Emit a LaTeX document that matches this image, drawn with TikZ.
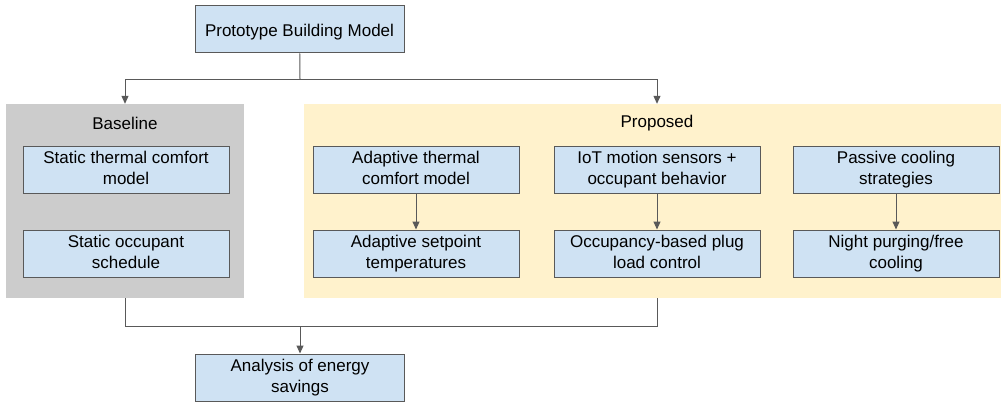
\documentclass[tikz,border=0pt]{standalone}
\usepackage{fontspec}
\setmainfont{Liberation Sans}
\usetikzlibrary{arrows.meta, positioning, calc}

\definecolor{boxblue}{HTML}{CFE2F3}
\definecolor{boxline}{HTML}{595959}
\definecolor{basegray}{HTML}{CCCCCC}
\definecolor{propyellow}{HTML}{FFF2CC}

\newcommand{\boxtopstrut}{\rule{0pt}{18pt}}
\newcommand{\boxbotstrut}{\rule[-3pt]{0pt}{3pt}}

\tikzset{
    stepbox/.style={rectangle, draw=boxline, fill=boxblue, line width=1pt,
        minimum width=206pt, minimum height=47pt, align=center,
        font=\fontsize{17}{20.5}\selectfont,
        execute at begin node=\boxtopstrut, execute at end node=\boxbotstrut},
    panel/.style={rectangle, inner sep=0pt},
    paneltitle/.style={font=\fontsize{17}{21}\selectfont},
    conn/.style={draw=boxline, line width=1pt},
    arr/.style={conn, -{Triangle[length=8pt,width=7pt]}}
}

\begin{document}
\begin{tikzpicture}[x=1pt, y=-1pt]
\useasboundingbox (0,0) rectangle (1001,404);
% Panels
\node[panel, fill=basegray, minimum width=238pt, minimum height=194pt] (baseline) at (125,201) {};
\node[panel, fill=propyellow, minimum width=697pt, minimum height=194pt] (proposed) at (652.5,201) {};
\node[paneltitle] (basetitle) at (125,123.5) {Baseline};
\node[paneltitle] (proptitle) at (657,123.5) {Proposed};
% Boxes
\node[stepbox, minimum width=209pt] (proto) at (299.5,29.5) {Prototype Building Model};
\node[stepbox] (statcomf) at (126,169.5) {Static thermal comfort\\model};
\node[stepbox] (statocc) at (126,253.5) {Static occupant\\schedule};
\node[stepbox] (adcomf) at (416,169.5) {Adaptive thermal\\comfort model};
\node[stepbox] (adset) at (416,253.5) {Adaptive setpoint\\temperatures};
\node[stepbox] (iot) at (657,169.5) {IoT motion sensors +\\occupant behavior};
\node[stepbox] (plug) at (657,253.5) {Occupancy-based plug\\load control};
\node[stepbox] (passive) at (896,169.5) {Passive cooling\\strategies};
\node[stepbox] (night) at (896,253.5) {Night purging/free\\cooling};
\node[stepbox, minimum width=209pt] (analysis) at (300,377.5) {Analysis of energy\\savings};
% Connectors
\coordinate (split) at (300,79);
\coordinate (merge) at (300,326);
\draw[conn] (proto) -- (split);
\draw[arr] (split) -| (baseline.north);
\draw[arr] (split) -| (iot |- proposed.north);
\draw[arr] (adcomf) -- (adset);
\draw[arr] (iot) -- (plug);
\draw[arr] (passive) -- (night);
\draw[conn] (baseline.south) |- (merge);
\draw[conn] (iot |- proposed.south) |- (merge);
\draw[arr] (merge) -- (analysis);
\end{tikzpicture}
\end{document}
